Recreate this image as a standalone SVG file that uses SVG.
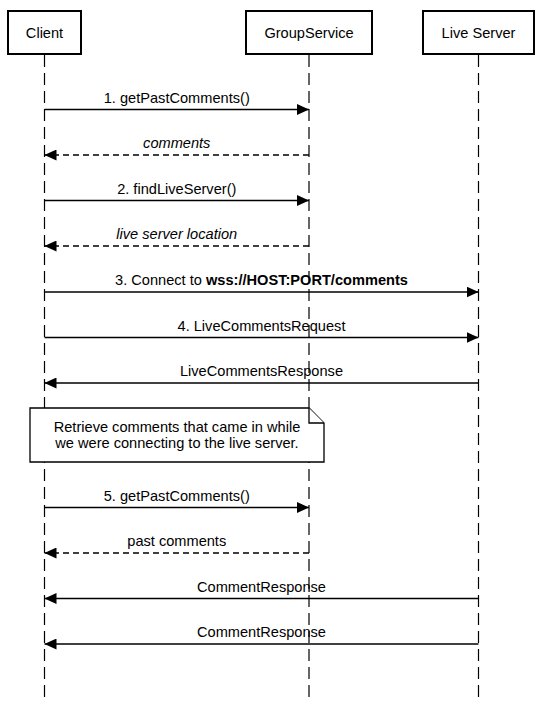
<svg xmlns="http://www.w3.org/2000/svg" width="541" height="701" viewBox="0 0 541 701">
<style>
  text { font-family: "Liberation Sans", Arial, Helvetica, sans-serif; font-size: 14.6px; fill: #000; }
  .actor rect { fill: #fff; stroke: #000; stroke-width: 2; }
  .life { stroke: #000; stroke-width: 1.2; stroke-dasharray: 12 6; fill: none; }
  .msg { stroke: #000; stroke-width: 1.5; fill: none; }
  .solid { marker-end: url(#ah); }
  .dash { stroke-dasharray: 6 4; marker-end: url(#ah); }
  .lbl { text-anchor: middle; }
  .it { font-style: italic; }
  .note path { fill: #fff; stroke: #000; stroke-width: 1.3; }
</style>
<defs>
  <marker id="ah" viewBox="0 0 12 11" refX="12" refY="5.5" markerWidth="12" markerHeight="11" markerUnits="userSpaceOnUse" orient="auto">
    <path d="M0,0 L12,5.5 L0,11 Z" fill="#000"/>
  </marker>
</defs>
<rect width="541" height="701" fill="#fff"/>

<g id="lifelines">
  <line class="life" x1="44.5" y1="55" x2="44.5" y2="701"/>
  <line class="life" x1="309" y1="55" x2="309" y2="701"/>
  <line class="life" x1="478.5" y1="55" x2="478.5" y2="701"/>
</g>

<g id="actor-client" class="actor">
  <rect x="8" y="11" width="73" height="43"/>
  <text class="lbl" x="44.5" y="38">Client</text>
</g>
<g id="actor-groupservice" class="actor">
  <rect x="246" y="11" width="126" height="43"/>
  <text class="lbl" x="309" y="38">GroupService</text>
</g>
<g id="actor-liveserver" class="actor">
  <rect x="423" y="11" width="111" height="43"/>
  <text class="lbl" x="478.5" y="38">Live Server</text>
</g>

<g id="connectors">
  <line class="msg solid" x1="44.5" y1="109.5" x2="309" y2="109.5"/>
  <text class="lbl" x="176.75" y="102.5">1. getPastComments()</text>

  <line class="msg dash" x1="309" y1="155" x2="44.5" y2="155"/>
  <text class="lbl it" x="176.75" y="148">comments</text>

  <line class="msg solid" x1="44.5" y1="200.5" x2="309" y2="200.5"/>
  <text class="lbl" x="176.75" y="193.5">2. findLiveServer()</text>

  <line class="msg dash" x1="309" y1="246" x2="44.5" y2="246"/>
  <text class="lbl it" x="176.75" y="239">live server location</text>

  <line class="msg solid" x1="44.5" y1="292" x2="478.5" y2="292"/>
  <text class="lbl" x="261.5" y="285">3. Connect to <tspan font-weight="bold">wss://HOST:PORT/comments</tspan></text>

  <line class="msg solid" x1="44.5" y1="337.5" x2="478.5" y2="337.5"/>
  <text class="lbl" x="261.5" y="330.5">4. LiveCommentsRequest</text>

  <line class="msg solid" x1="478.5" y1="383" x2="44.5" y2="383"/>
  <text class="lbl" x="261.5" y="376">LiveCommentsResponse</text>

  <line class="msg solid" x1="44.5" y1="507.5" x2="309" y2="507.5"/>
  <text class="lbl" x="176.75" y="500.5">5. getPastComments()</text>

  <line class="msg dash" x1="309" y1="553" x2="44.5" y2="553"/>
  <text class="lbl" x="176.75" y="546">past comments</text>

  <line class="msg solid" x1="478.5" y1="598.5" x2="44.5" y2="598.5"/>
  <text class="lbl" x="261.5" y="591.5">CommentResponse</text>

  <line class="msg solid" x1="478.5" y1="644" x2="44.5" y2="644"/>
  <text class="lbl" x="261.5" y="637">CommentResponse</text>
</g>

<g id="note" class="note">
  <path d="M30,408 L309,408 L324,423 L324,462 L30,462 Z"/>
  <path d="M309,408 L309,423 L324,423" fill="none"/>
  <text class="lbl" x="177" y="431.5">Retrieve comments that came in while</text>
  <text class="lbl" x="177" y="447.5">we were connecting to the live server.</text>
</g>
</svg>
